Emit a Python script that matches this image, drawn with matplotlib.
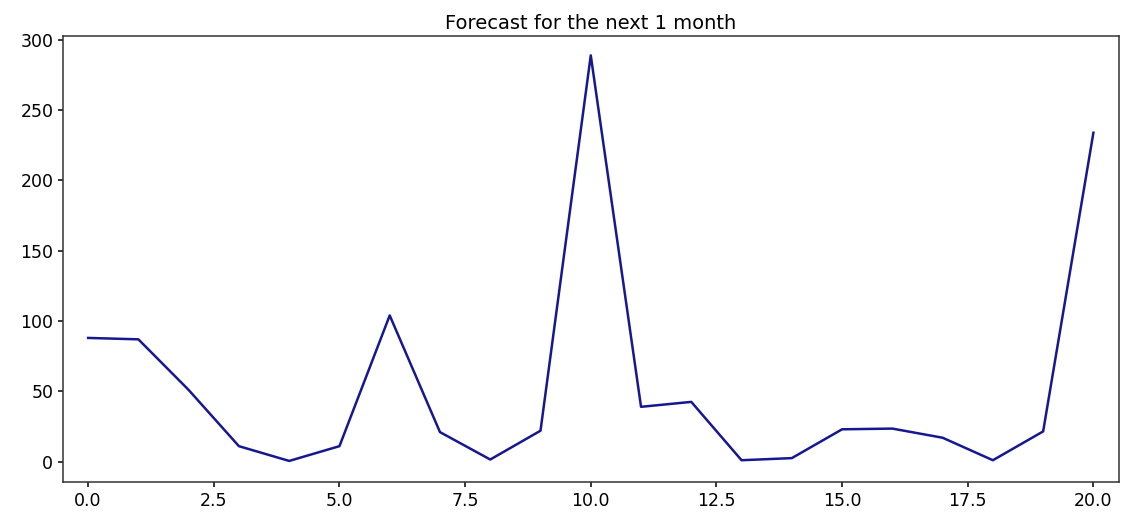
import matplotlib
matplotlib.use("Agg")
import matplotlib.pyplot as plt

x_index = list(range(21))
forecast = [88, 87, 51, 11, 0.5, 11, 104, 21, 1.5, 22, 289, 39, 42.5, 1, 2.5, 23, 23.5, 17, 1, 21.5, 234]
x_ticks = [0, 2.5, 5, 7.5, 10, 12.5, 15, 17.5, 20]
x_tick_labels = ["0.0", "2.5", "5.0", "7.5", "10.0", "12.5", "15.0", "17.5", "20.0"]
y_ticks = [0, 50, 100, 150, 200, 250, 300]

fig = plt.figure(figsize=(11.35, 5.13), dpi=100)
ax = fig.add_axes([0.0555, 0.0604, 0.930, 0.870])
ax.plot(x_index, forecast, color='#17178f', linewidth=1.8)
ax.set_title("Forecast for the next 1 month", fontsize=14, pad=5)
ax.tick_params(labelsize=12.5, width=1.1)
for s in ax.spines.values():
    s.set_linewidth(1.1)
    s.set_color('#333333')
ax.set_xlim(-0.5, 20.5)
ax.set_xticks(x_ticks)
ax.set_xticklabels(x_tick_labels)
ax.set_yticks(y_ticks)
ax.set_ylim(-14.5, 303)
fig.savefig("out.png", dpi=100)
